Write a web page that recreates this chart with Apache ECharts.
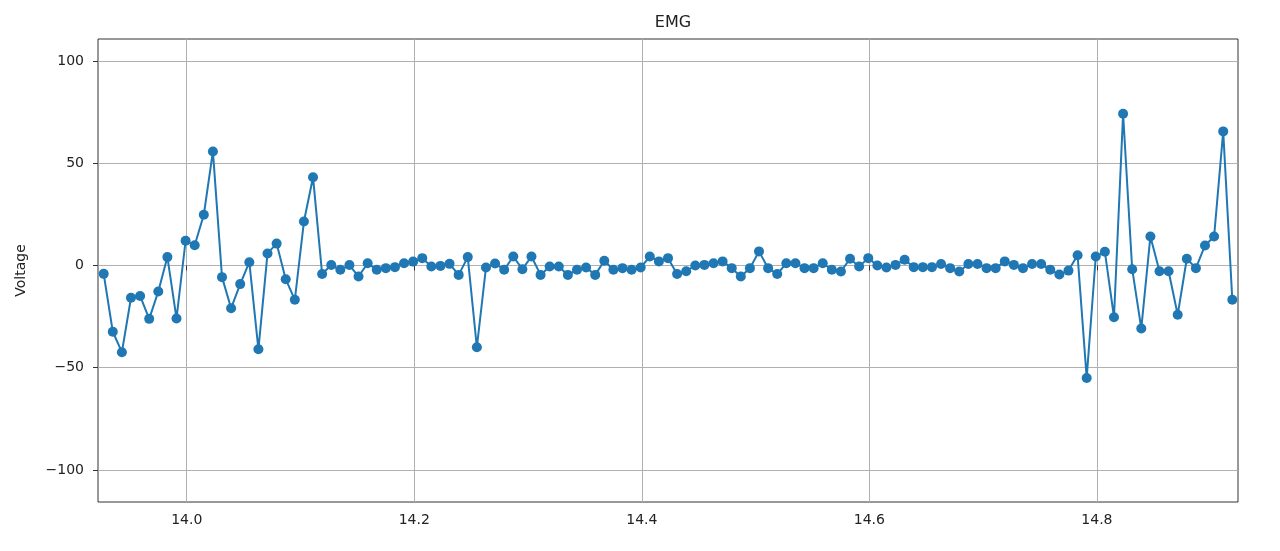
<!DOCTYPE html>
<html>
<head>
<meta charset="utf-8">
<script src="https://cdn.jsdelivr.net/npm/echarts@6/dist/echarts.min.js"></script>
<style>html,body{margin:0;padding:0;background:#fff;}#chart{width:1280px;height:551px;}</style>
</head>
<body>
<div id="chart"></div>
<script>
const times = [
13.927,13.935,13.943,13.951,13.959,13.967,13.975,13.983,13.991,13.999,
14.007,14.015,14.023,14.031,14.039,14.047,14.055,14.063,14.071,14.079,
14.087,14.095,14.103,14.111,14.119,14.127,14.135,14.143,14.151,14.159,
14.167,14.175,14.183,14.191,14.199,14.207,14.215,14.223,14.231,14.239,
14.247,14.255,14.263,14.271,14.279,14.287,14.295,14.303,14.311,14.319,
14.327,14.335,14.343,14.351,14.359,14.367,14.375,14.383,14.391,14.399,
14.407,14.415,14.423,14.431,14.439,14.447,14.455,14.463,14.471,14.479,
14.487,14.495,14.503,14.511,14.519,14.527,14.535,14.543,14.551,14.559,
14.567,14.575,14.583,14.591,14.599,14.607,14.615,14.623,14.631,14.639,
14.647,14.655,14.663,14.671,14.679,14.687,14.695,14.703,14.711,14.719,
14.727,14.735,14.743,14.751,14.759,14.767,14.775,14.783,14.791,14.799,
14.807,14.815,14.823,14.831,14.839,14.847,14.855,14.863,14.871,14.879,
14.887,14.895,14.903,14.911,14.919
];
const voltage = [
-4.1,-32.4,-42.4,-15.8,-14.9,-26.1,-12.7,4.1,-25.9,12.1,
9.9,24.8,55.8,-5.7,-20.9,-9.1,1.6,-41,5.9,10.7,
-6.7,-16.8,21.5,43.2,-4.2,0.2,-2.1,0.2,-5.4,1.1,
-2.1,-1.3,-0.8,1.1,1.9,3.6,-0.5,-0.2,0.8,-4.6,
4.1,-40,-1.0,1.0,-2.1,4.4,-1.8,4.4,-4.6,-0.5,
-0.5,-4.6,-2.1,-1,-4.6,2.3,-2.1,-1.3,-2.1,-1,
4.4,2,3.6,-4.2,-2.8,0,0.3,1.1,2,-1.3,
-5.4,-1.3,6.9,-1.3,-4.2,1.1,1.1,-1.3,-1.3,1.1,
-2.1,-2.9,3.3,-0.5,3.6,0,-1.0,0.3,2.8,-0.8,
-0.8,-0.8,0.7,-1.3,-2.9,0.7,0.7,-1.3,-1.3,2,
0.3,-1.3,0.7,0.7,-2.1,-4.4,-2.5,5,-55,4.4,
6.7,-25.3,74.2,-1.8,-30.8,14.2,-2.8,-2.8,-24.1,3.3,
-1.3,9.8,14.2,65.6,-16.8
];
const xTicks = [14.0, 14.2, 14.4, 14.6, 14.8];
const yTicks = [-100, -50, 0, 50, 100];
const titleText = 'EMG';
const yName = 'Voltage';

const seriesData = times.map((t, i) => [t, voltage[i]]);
const font = 'DejaVu Sans';
const chart = echarts.init(document.getElementById('chart'), null, {renderer: 'canvas'});
chart.setOption({
  animation: false,
  backgroundColor: '#ffffff',
  title: {
    text: titleText,
    left: 668,
    top: 10,
    textAlign: 'center',
    textStyle: {fontFamily: font, fontSize: 16, fontWeight: 'normal', color: '#222'}
  },
  grid: {
    left: 98, right: 42, top: 39, bottom: 49,
    show: true, borderColor: '#333', borderWidth: 1, backgroundColor: '#fff'
  },
  xAxis: {
    type: 'value',
    min: 13.922, max: 14.924,
    axisLine: {show: false},
    axisTick: {show: true, inside: false, length: 5, lineStyle: {color: '#333'}, customValues: xTicks},
    axisLabel: {customValues: xTicks, fontFamily: font, fontSize: 14, color: '#222', margin: 11,
      formatter: v => v.toFixed(1)},
    splitLine: {show: true, lineStyle: {color: '#b0b0b0', width: 1}}
  },
  yAxis: {
    type: 'value',
    min: -115.7, max: 110.8,
    name: yName,
    nameLocation: 'middle',
    nameRotate: 90,
    nameGap: 70,
    nameTextStyle: {fontFamily: font, fontSize: 14, color: '#222'},
    axisLine: {show: false},
    axisTick: {show: true, inside: false, length: 5, lineStyle: {color: '#333'}, customValues: yTicks},
    axisLabel: {customValues: yTicks, fontFamily: font, fontSize: 14, color: '#222', margin: 14,
      formatter: v => String(v).replace('-', '\u2212')},
    splitLine: {show: true, lineStyle: {color: '#b0b0b0', width: 1}}
  },
  series: [{
    type: 'line',
    data: seriesData,
    symbol: 'circle',
    symbolSize: 10,
    showAllSymbol: true,
    lineStyle: {color: '#1f77b4', width: 2},
    itemStyle: {color: '#1f77b4'},
    z: 3
  }]
});
</script>
</body>
</html>
